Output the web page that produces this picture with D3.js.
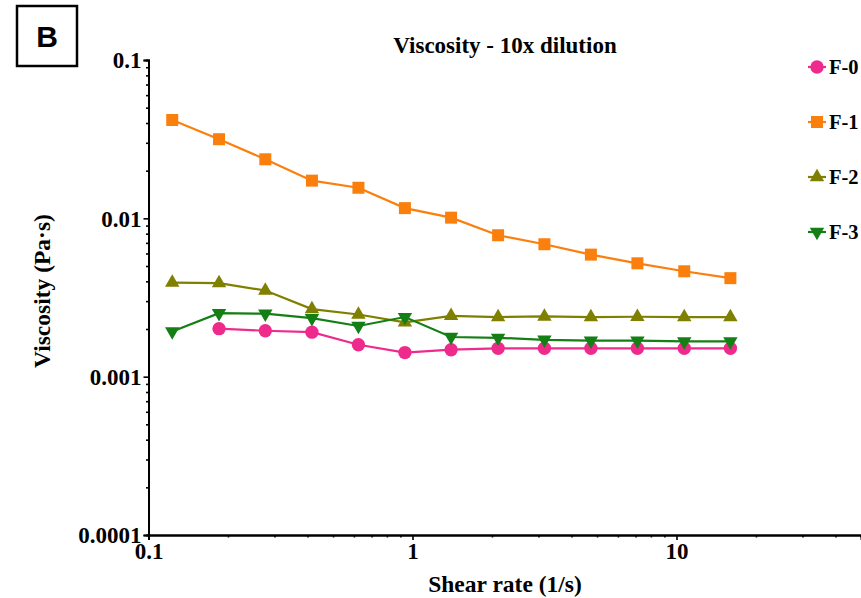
<!DOCTYPE html>
<html>
<head>
<meta charset="utf-8">
<script src="https://cdn.jsdelivr.net/npm/d3@7"></script>
<style>
  html, body { margin: 0; padding: 0; background: #fff; overflow: hidden; }
  svg { display: block; }
  .serif { font-family: "Liberation Serif", "Times New Roman", serif; font-weight: bold; fill: #000; }
</style>
</head>
<body>
<div id="chart"></div>
<script>
// Shear rate (1/s) at each measurement step
const shearRate = [0.123, 0.185, 0.277, 0.416, 0.624, 0.936, 1.40, 2.11, 3.16, 4.74, 7.11, 10.7, 16.0];

// Viscosity (Pa·s) per formulation; null where no point was recorded
const f0 = [null, 0.00201, 0.00195, 0.00191, 0.00159, 0.00142, 0.00148, 0.00151, 0.00151, 0.00151, 0.00151, 0.00151, 0.00151];
const f1 = [0.0418, 0.0316, 0.0236, 0.0173, 0.0156, 0.0116, 0.0101, 0.00782, 0.00686, 0.00590, 0.00520, 0.00463, 0.00419];
const f2 = [0.00393, 0.00390, 0.00350, 0.00267, 0.00247, 0.00220, 0.00242, 0.00238, 0.00240, 0.00238, 0.00239, 0.00238, 0.00238];
const f3 = [0.00193, 0.00252, 0.00250, 0.00234, 0.00209, 0.00238, 0.00178, 0.00176, 0.00171, 0.00169, 0.00169, 0.00167, 0.00167];

const seriesNames = ["F-0", "F-1", "F-2", "F-3"];
const seriesColors = ["#ee2a8c", "#fb7f0c", "#7f7f00", "#147f14"];
const seriesSymbols = ["circle", "square", "triangle", "triangleDown"];

const xTickValues = [0.1, 1, 10];
const xTickLabels = ["0.1", "1", "10"];
const yTickValues = [0.1, 0.01, 0.001, 0.0001];
const yTickLabels = ["0.1", "0.01", "0.001", "0.0001"];

const titleText = "Viscosity - 10x dilution";
const xTitle = "Shear rate (1/s)";
const yTitle = "Viscosity (Pa·s)";
const panelLetter = "B";

const W = 861, H = 598;
const svg = d3.select("#chart").append("svg").attr("width", W).attr("height", H);

// Log axes: 264 px per decade horizontally, the x axis runs to the right edge
const x = d3.scaleLog().domain([0.1, 50]).range([148.5, 148.5 + Math.log10(500) * 264]);
const y = d3.scaleLog().domain([0.0001, 0.1]).range([535, 60]);

function minors(lo, hi, max) {
  const out = [];
  for (let d = lo; d < hi; d *= 10) for (let k = 2; k <= 9; k++) if (d * k <= max) out.push(d * k);
  return out;
}

// Axes: minor ticks first, then majors with labels
const yMinor = svg.append("g").attr("transform", `translate(${x(0.1)},0)`)
  .call(d3.axisLeft(y).tickValues(minors(0.0001, 0.1, 1)).tickSize(2.5).tickFormat(""));
const yMajor = svg.append("g").attr("transform", `translate(${x(0.1)},0)`)
  .call(d3.axisLeft(y).tickValues(yTickValues).tickSize(5).tickPadding(2)
    .tickFormat((d, i) => yTickLabels[i]));
const xMinor = svg.append("g").attr("transform", `translate(0,${y(0.0001)})`)
  .call(d3.axisBottom(x).tickValues(minors(0.1, 100, 50)).tickSize(2.5).tickFormat(""));
const xMajor = svg.append("g").attr("transform", `translate(0,${y(0.0001)})`)
  .call(d3.axisBottom(x).tickValues(xTickValues).tickSize(5).tickPadding(2)
    .tickFormat((d, i) => xTickLabels[i]));

[yMinor, yMajor, xMinor, xMajor].forEach(g => {
  g.selectAll(".domain").attr("stroke", "#000").attr("stroke-width", 2);
  g.selectAll(".tick line").attr("stroke", "#000").attr("stroke-width", 1.6);
  g.selectAll("text").attr("class", "serif").attr("font-size", 23).attr("fill", "#000");
});
yMajor.selectAll("text").attr("dy", "0.34em");
xMajor.selectAll("text").attr("dy", "0.72em");

// Titles
svg.append("text").attr("class", "serif").attr("x", 505).attr("y", 53)
  .attr("text-anchor", "middle").attr("font-size", 23).text(titleText);
svg.append("text").attr("class", "serif").attr("x", 505).attr("y", 592)
  .attr("text-anchor", "middle").attr("font-size", 23.5).text(xTitle);
svg.append("text").attr("class", "serif")
  .attr("transform", "translate(50,291) rotate(-90)")
  .attr("text-anchor", "middle").attr("font-size", 23.5).text(yTitle);

// Panel letter box
svg.append("rect").attr("x", 17).attr("y", 6).attr("width", 60).attr("height", 60)
  .attr("fill", "none").attr("stroke", "#000").attr("stroke-width", 2.5);
svg.append("text").attr("x", 47).attr("y", 47).attr("text-anchor", "middle")
  .attr("font-family", "'Liberation Sans', Arial, sans-serif").attr("font-weight", "bold")
  .attr("font-size", 30).text(panelLetter);

// Marker shapes
const symbolFor = {
  circle: d3.symbol().type(d3.symbolCircle).size(140),
  square: d3.symbol().type(d3.symbolSquare).size(144),
  triangle: d3.symbol().type(d3.symbolTriangle).size(90),
  triangleDown: d3.symbol().type(d3.symbolTriangle).size(90)
};
function marker(g, kind, color, cx, cy) {
  g.append("path").attr("d", symbolFor[kind]())
    .attr("transform", `translate(${cx},${cy})` + (kind === "triangleDown" ? " rotate(180)" : ""))
    .attr("fill", color);
}

const allSeries = [f0, f1, f2, f3];
const line = d3.line().defined(d => d[1] != null).x(d => x(d[0])).y(d => y(d[1]));

allSeries.forEach((vals, i) => {
  const pts = shearRate.map((s, j) => [s, vals[j]]);
  const g = svg.append("g");
  g.append("path").datum(pts).attr("d", line)
    .attr("fill", "none").attr("stroke", seriesColors[i]).attr("stroke-width", 2.2);
  pts.filter(p => p[1] != null).forEach(p => marker(g, seriesSymbols[i], seriesColors[i], x(p[0]), y(p[1])));
});

// Legend
const legendY = d3.scalePoint().domain(seriesNames).range([67, 232]);
seriesNames.forEach((name, i) => {
  const cy = legendY(name);
  const g = svg.append("g");
  g.append("line").attr("x1", 808).attr("x2", 826).attr("y1", cy).attr("y2", cy)
    .attr("stroke", seriesColors[i]).attr("stroke-width", 2.2);
  marker(g, seriesSymbols[i], seriesColors[i], 817, cy);
  g.append("text").attr("class", "serif").attr("x", 829).attr("y", cy + 7)
    .attr("font-size", 20.5).text(name);
});
</script>
</body>
</html>
